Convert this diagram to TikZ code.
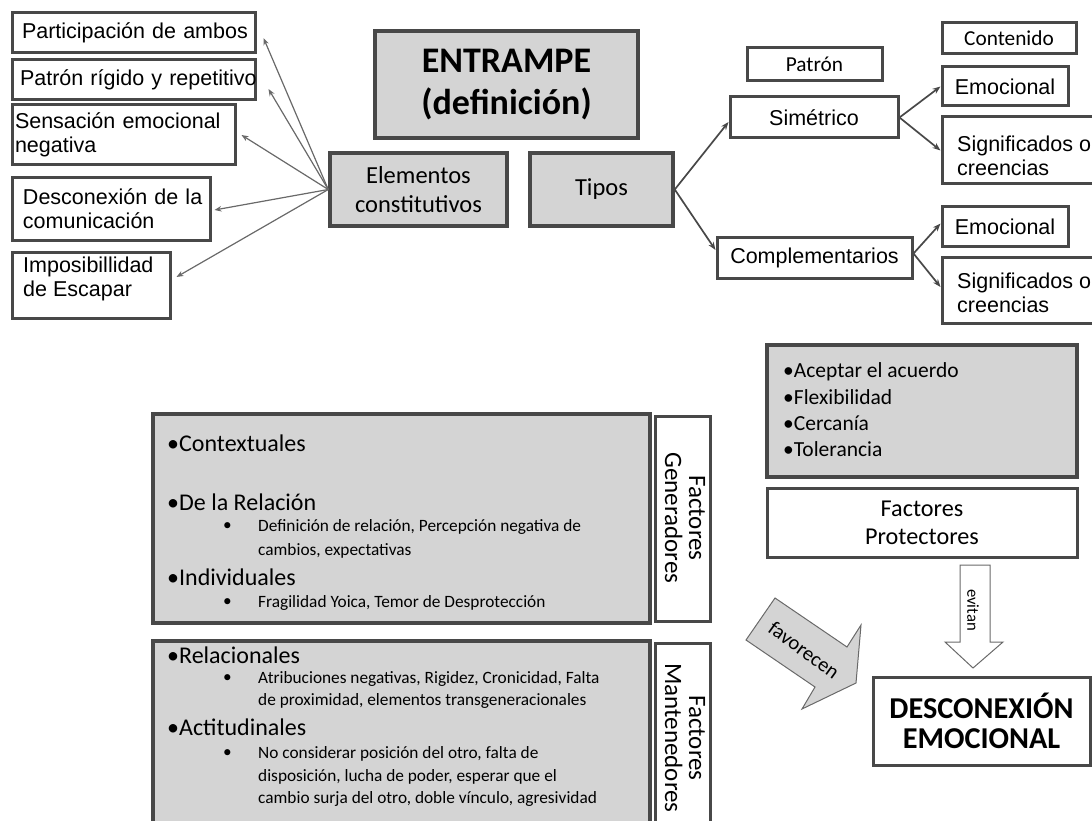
\documentclass[tikz,border=0pt]{standalone}
\usepackage{fontspec}
\setmainfont{Carlito}
\newfontfamily\arialf{Liberation Sans}
\usetikzlibrary{arrows.meta}
\definecolor{bdr}{RGB}{72,72,72}
\definecolor{gfill}{RGB}{212,212,212}
\definecolor{lgray}{RGB}{105,105,105}
\begin{document}
\begin{tikzpicture}[x=1pt,y=-1pt,
  box/.style={draw=bdr, line width=3pt, fill=white, inner xsep=0pt, inner ysep=0pt},
  gbox/.style={box, fill=gfill, line width=3.5pt},
  af/.style={font=\arialf\fontsize{21.5}{24}\selectfont},
  aft/.style={af, inner sep=0pt, anchor=west, align=left},
  cf/.style={font=\fontsize{21.3}{25}\selectfont},
  ef/.style={font=\fontsize{24.5}{29}\selectfont},
  mainb/.style={font=\fontsize{24}{28}\selectfont, inner sep=0pt, anchor=west},
  subb/.style={font=\fontsize{17.3}{22}\selectfont, inner sep=0pt, anchor=west},
  protb/.style={font=\fontsize{21.5}{25}\selectfont, inner sep=0pt, anchor=west},
  vtext/.style={font=\fontsize{25}{24}\selectfont, rotate=-90, align=center, inner sep=0pt},
  conn/.style={draw=lgray, line width=1.2pt, -{Stealth[length=7pt,width=5.5pt]}},
  conn2/.style={draw=bdr, line width=1.7pt, -{Stealth[length=8pt,width=6pt]}},
  blockarrow/.style={draw=lgray, line width=1pt}
]
\useasboundingbox (0,0) rectangle (1092,821);
\clip (0,0) rectangle (1092,821);

% ---- top left: elements ----
\node[box, af, minimum width=243pt, minimum height=40pt, inner xsep=10pt, text width=223pt, align=left] (p1) at (133.5,33) {\mbox{Participación de ambos}};
\node[box, af, minimum width=243pt, minimum height=40pt, inner xsep=8pt, text width=227pt, align=left] (p2) at (133.5,80) {\mbox{Patrón rígido y repetitivo}};
\node[box, af, minimum width=223pt, minimum height=60pt, inner xsep=3pt, text width=217pt, align=left] (p3) at (123.5,135) {\mbox{Sensación emocional}\\\mbox{negativa}};
\node[box, af, minimum width=198pt, minimum height=62pt, inner xsep=11pt, text width=176pt, align=left] (p4) at (111,209) {\mbox{Desconexión de la}\\\mbox{comunicación}};
\node[box, minimum width=158pt, minimum height=66pt] (p5) at (91,285) {};
\node[aft] (p5t) at (23,279) {Imposibillidad\\de Escapar};

% ---- centre ----
\node[gbox, minimum width=263pt, minimum height=107pt, align=center, font=\bfseries\fontsize{36}{42}\selectfont] (ent) at (506.5,84.5) {ENTRAMPE\\(definición)};
\node[gbox, ef, minimum width=177pt, minimum height=73pt, align=center] (elem) at (418.5,189.5) {Elementos\\constitutivos};
\node[gbox, ef, minimum width=143pt, minimum height=73pt, align=center] (tipos) at (601.5,189.5) {Tipos};

% ---- right: types ----
\node[box, cf, minimum width=135pt, minimum height=33pt] (patron) at (814.5,64.5) {Patrón};
\node[box, cf, minimum width=134pt, minimum height=31pt] (cont) at (1009,38.5) {Contenido};
\node[box, af, minimum width=168pt, minimum height=41pt] (sim) at (814,117.5) {Simétrico};
\node[box, af, minimum width=195pt, minimum height=41pt] (comp) at (814.5,257.5) {Complementarios};
\node[box, af, minimum width=126pt, minimum height=39pt] (em1) at (1005,86.5) {Emocional};
\node[box, minimum width=153pt, minimum height=67pt] (sg1) at (1018.5,150.5) {};
\node[aft] (sg1t) at (957,156) {Significados o\\creencias};
\node[box, af, minimum width=126pt, minimum height=39pt] (em2) at (1005,226.5) {Emocional};
\node[box, minimum width=153pt, minimum height=66pt] (sg2) at (1018.5,290) {};
\node[aft] (sg2t) at (957,293) {Significados o\\creencias};

% ---- connectors ----
\draw[conn] (elem.west) -- ([xshift=7pt,yshift=-5pt]p1.east);
\draw[conn] (elem.west) -- ([xshift=12pt,yshift=-9pt]p2.east);
\draw[conn] (elem.west) -- ([xshift=5pt]p3.east);
\draw[conn] (elem.west) -- ([xshift=3pt,yshift=-1pt]p4.east);
\draw[conn] (elem.west) -- ([xshift=5pt,yshift=8pt]p5.east);

\draw[conn2] (tipos.east) -- ([yshift=-4.5pt]sim.west);
\draw[conn2] (tipos.east) -- ([yshift=7.5pt]comp.west);
\draw[conn2] (sim.east) -- (em1.west);
\draw[conn2] (sim.east) -- (sg1.west);
\draw[conn2] ([yshift=4pt]comp.east) -- ([yshift=3pt]em2.west);
\draw[conn2] ([yshift=4pt]comp.east) -- ([yshift=3pt]sg2.west);

% ---- lower left: generating factors ----
\node[gbox, minimum width=497pt, minimum height=209pt] (gen) at (401.5,518.5) {};
\node[box, minimum width=55pt, minimum height=205pt] (genw) at (682.5,518.5) {};
\node[vtext] (gent) at (685,518) {Factores\\Generadores};
\node[mainb] (g1) at (167,443) {•Contextuales};
\node[mainb] (g2) at (167,502) {•De la Relación};
\node[subb] (g3d) at (223,527) {•};
\node[subb] (g3) at (258,527) {Definición de relación, Percepción negativa de};
\node[subb] (g4) at (258,551) {cambios, expectativas};
\node[mainb] (g5) at (167,577) {•Individuales};
\node[subb] (g6d) at (223,603) {•};
\node[subb] (g6) at (258,603) {Fragilidad Yoica, Temor de Desprotección};

% ---- maintaining factors ----
\node[gbox, minimum width=497pt, minimum height=199pt] (man) at (401.5,740.5) {};
\node[box, minimum width=55pt, minimum height=197pt] (manw) at (682.5,741.5) {};
\node[vtext] (mant) at (685,738) {Factores\\Mantenedores};
\node[mainb] (m1) at (167,655) {•Relacionales};
\node[subb] (m2d) at (223,679) {•};
\node[subb] (m2) at (258,679) {Atribuciones negativas, Rigidez, Cronicidad, Falta};
\node[subb] (m3) at (258,701) {de proximidad, elementos transgeneracionales};
\node[mainb] (m4) at (167,727) {•Actitudinales};
\node[subb] (m5d) at (223,754) {•};
\node[subb] (m5) at (258,754) {No considerar posición del otro, falta de};
\node[subb] (m6) at (258,777) {disposición, lucha de poder, esperar que el};
\node[subb] (m7) at (258,799) {cambio surja del otro, doble vínculo, agresividad};

% ---- protective factors ----
\node[gbox, minimum width=310pt, minimum height=132pt] (prot) at (922,411) {};
\node[protb] (r1) at (783,372) {•Aceptar el acuerdo};
\node[protb] (r2) at (783,397) {•Flexibilidad};
\node[protb] (r3) at (783,423) {•Cercanía};
\node[protb] (r4) at (783,449) {•Tolerancia};
\node[box, minimum width=310pt, minimum height=69pt, align=center, font=\fontsize{24.2}{28}\selectfont] (protw) at (922,522.5) {Factores\\Protectores};

% ---- block arrows ----
\draw[blockarrow, fill=white] (960,565) -- (990,565) -- (990,642) -- (1003,642) -- (973,668) -- (945,642) -- (960,642) -- cycle;
\node[rotate=-90, inner sep=0pt, font=\fontsize{16.7}{18}\selectfont] (evi) at (973,610) {evitan};
\draw[blockarrow, fill=gfill] (775,598) -- (746,640) -- (815,687) -- (802,709) -- (856,683) -- (861,625) -- (847,647) -- cycle;
\node[rotate=-36, inner sep=0pt, font=\fontsize{20.5}{22}\selectfont] (fav) at (804,650) {favorecen};

% ---- result ----
\node[box, minimum width=217pt, minimum height=88pt, align=center, font=\bfseries\fontsize{30.3}{30}\selectfont] (desc) at (981.5,721) {DESCONEXIÓN\\EMOCIONAL};
\end{tikzpicture}
\end{document}
